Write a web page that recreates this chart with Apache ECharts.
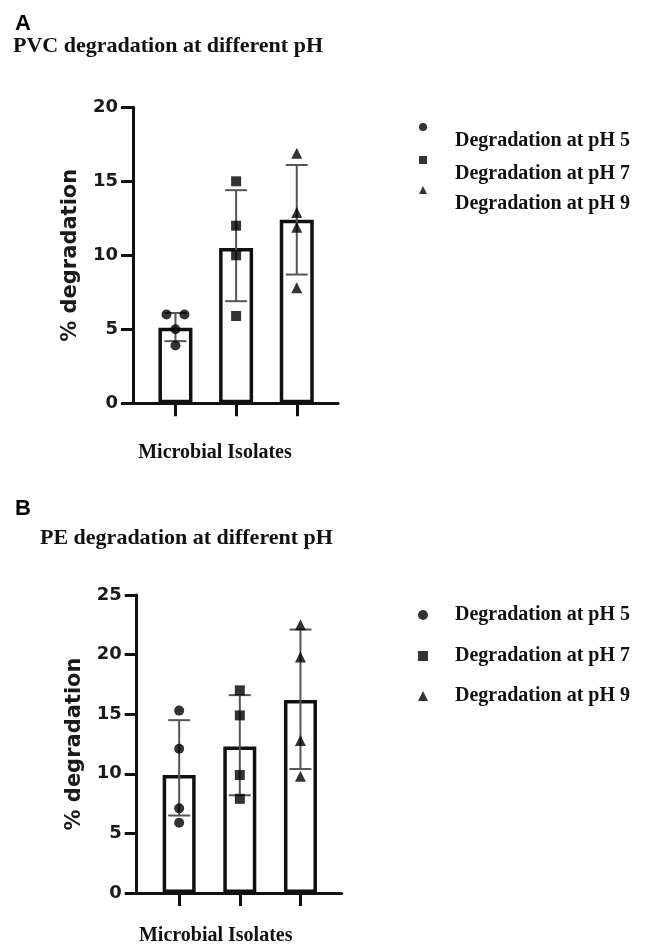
<!DOCTYPE html>
<html><head><meta charset="utf-8">
<script src="https://cdn.jsdelivr.net/npm/echarts@6/dist/echarts.min.js"></script>
<style>html,body{margin:0;padding:0;background:#fff}#c{width:648px;height:947px}</style>
</head><body><div id="c"></div>
<script>
// ---- data ----
const categories = ['pH 5', 'pH 7', 'pH 9'];
const groups = ['Degradation at pH 5', 'Degradation at pH 7', 'Degradation at pH 9'];
const symbols = ['circle', 'rect', 'triangle'];
const yTicksA = [0, 5, 10, 15, 20];
const yTicksB = [0, 5, 10, 15, 20, 25];

// Panel A: PVC
const barsA = [5.1, 10.5, 12.4];
const errUpperA = [6.1, 14.4, 16.1];
const errLowerA = [4.2, 6.9, 8.7];
const pointsA_pH5 = [6.0, 6.0, 5.0, 3.9];
const pointsA_pH7 = [15.0, 12.0, 10.0, 5.9];
const pointsA_pH9 = [16.9, 12.9, 11.9, 7.8];

// Panel B: PE
const barsB = [9.9, 12.3, 16.2];
const errUpperB = [14.5, 16.6, 22.1];
const errLowerB = [6.5, 8.2, 10.4];
const pointsB_pH5 = [15.3, 12.1, 7.1, 5.9];
const pointsB_pH7 = [17.0, 14.9, 9.9, 7.9];
const pointsB_pH9 = [22.5, 19.8, 12.8, 9.8];

// ---- build ----
const INK = '#111';
function errRender(params, api) {
  const x = api.value(0);
  const lo = api.coord([x, api.value(1)]);
  const hi = api.coord([x, api.value(2)]);
  const hw = 11;
  const style = { stroke: '#555', lineWidth: 2 };
  return { type: 'group', children: [
    { type: 'line', shape: { x1: lo[0], y1: lo[1], x2: hi[0], y2: hi[1] }, style },
    { type: 'line', shape: { x1: lo[0] - hw, y1: lo[1], x2: lo[0] + hw, y2: lo[1] }, style },
    { type: 'line', shape: { x1: hi[0] - hw, y1: hi[1], x2: hi[0] + hw, y2: hi[1] }, style }
  ]};
}
function pointData(catIdx, vals) {
  return vals.map((v, k) => {
    const dups = vals.map((w, j) => (w === v ? j : -1)).filter(j => j >= 0);
    let off = 0;
    if (dups.length > 1) {
      const pos = dups.indexOf(k);
      off = (pos - (dups.length - 1) / 2) * 18;
    }
    return { value: [catIdx, v], symbolOffset: [off, 0] };
  });
}
function panelSeries(idx, bars, up, lo, pts, barW) {
  const s = [];
  s.push({
    type: 'bar', xAxisIndex: idx, yAxisIndex: idx, barWidth: barW, z: 2,
    data: bars.map((v, i) => [i, v]),
    itemStyle: { color: '#fff', borderColor: INK, borderWidth: 3.5 },
    silent: true
  });
  s.push({
    type: 'custom', xAxisIndex: idx, yAxisIndex: idx, z: 3, silent: true,
    renderItem: errRender,
    data: categories.map((c, i) => [i, lo[i], up[i]])
  });
  pts.forEach((vals, i) => {
    s.push({
      type: 'scatter', name: groups[i], xAxisIndex: idx, yAxisIndex: idx, z: 4,
      symbol: symbols[i], symbolSize: symbols[i] === 'triangle' ? 11 : 10,
      itemStyle: { color: '#000' },
      data: pointData(i, vals)
    });
  });
  return s;
}
function xAxis(idx, nameGap, padR) {
  return {
    type: 'value', gridIndex: idx, min: -0.7, max: 2.68,
    axisLine: { show: true, onZero: false, lineStyle: { color: INK, width: 3 } },
    axisTick: { show: true, customValues: [0, 1, 2], length: 13, lineStyle: { color: INK, width: 3 } },
    axisLabel: { show: false }, splitLine: { show: false },
    name: 'Microbial Isolates', nameLocation: 'middle', nameGap: nameGap,
    nameTextStyle: { fontFamily: 'Liberation Serif', fontWeight: 'bold', fontSize: 20, color: INK, padding: [0, padR, 0, 0] }
  };
}
function yAxis(idx, ticks) {
  return {
    type: 'value', gridIndex: idx, min: ticks[0], max: ticks[ticks.length - 1], interval: ticks[1] - ticks[0],
    axisLine: { show: true, onZero: false, lineStyle: { color: INK, width: 3 } },
    axisTick: { show: true, length: 12, lineStyle: { color: INK, width: 3 } },
    axisLabel: { margin: 15, fontFamily: 'DejaVu Sans', fontWeight: 'bold', fontSize: 18, color: '#1a1a1a' },
    splitLine: { show: false },
    name: '% degradation', nameLocation: 'middle', nameGap: 52,
    nameTextStyle: { fontFamily: 'DejaVu Sans', fontWeight: 'bold', fontSize: 21, color: '#1a1a1a' }
  };
}
function legendItem(i, left, top, lineH, lead, size, padL) {
  return {
    data: [{ name: groups[i], icon: symbols[i] }], left: left, top: top, padding: 0,
    orient: 'vertical', itemWidth: size, itemHeight: size, selectedMode: false,
    itemStyle: { color: '#000' },
    formatter: lead ? (n => '\n' + n) : (n => n),
    textStyle: { fontFamily: 'Liberation Serif', fontWeight: 'bold', fontSize: 20, lineHeight: lineH, color: INK, padding: [0, 0, 0, padL] }
  };
}

const titleSans = { fontFamily: 'Liberation Sans', fontWeight: 'bold', fontSize: 22, color: '#000' };
const titleSerif = { fontFamily: 'Liberation Serif', fontWeight: 'bold', fontSize: 22, color: INK };

const option = {
  backgroundColor: '#fff',
  animation: false,
  title: [
    { text: 'A', left: 15, top: 13, padding: 0, textStyle: titleSans },
    { text: 'PVC degradation at different pH', left: 13, top: 35, padding: 0, textStyle: titleSerif },
    { text: 'B', left: 15, top: 498, padding: 0, textStyle: titleSans },
    { text: 'PE degradation at different pH', left: 40, top: 527, padding: 0, textStyle: titleSerif }
  ],
  legend: [
    legendItem(0, 419, 99, 28, true, 8, 23),
    legendItem(1, 419, 132, 28, true, 8, 23),
    legendItem(2, 419, 162, 28, true, 8, 23),
    legendItem(0, 418, 605, 20, false, 10, 22),
    legendItem(1, 418, 646, 20, false, 10, 22),
    legendItem(2, 418, 686, 20, false, 10, 22)
  ],
  grid: [
    { left: 133, top: 107.3, width: 205, height: 296 },
    { left: 136.7, top: 595, width: 205, height: 303.3 }
  ],
  xAxis: [xAxis(0, 40, 41), xAxis(1, 33, 47)],
  yAxis: [yAxis(0, yTicksA), yAxis(1, yTicksB)],
  series: [].concat(
    panelSeries(0, barsA, errUpperA, errLowerA, [pointsA_pH5, pointsA_pH7, pointsA_pH9], 34),
    panelSeries(1, barsB, errUpperB, errLowerB, [pointsB_pH5, pointsB_pH7, pointsB_pH9], 33)
  )
};
const chart = echarts.init(document.getElementById('c'), null, { renderer: 'canvas' });
chart.setOption(option);
</script></body></html>
